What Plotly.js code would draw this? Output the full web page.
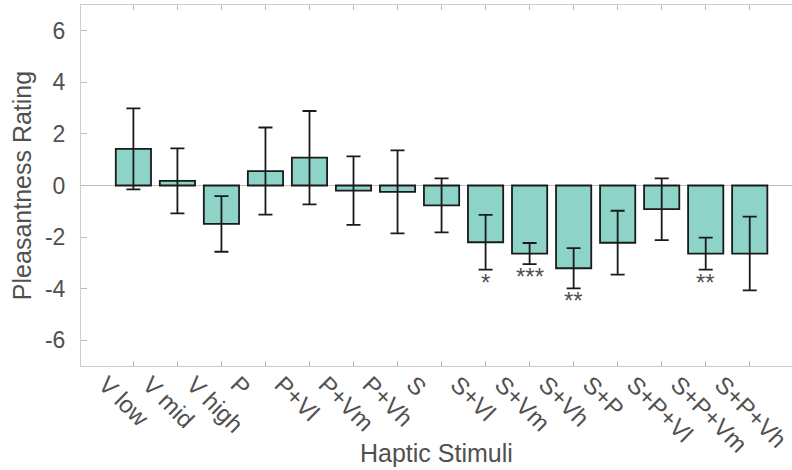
<!DOCTYPE html>
<html>
<head>
<meta charset="utf-8">
<script src="https://cdn.plot.ly/plotly-3.0.1.min.js"></script>
<style>html,body{margin:0;padding:0;background:#fff;}#chart{width:792px;height:470px;}</style>
</head>
<body>
<div id="chart"></div>
<script>
var categories = ['V low','V mid','V high','P','P+Vl','P+Vm','P+Vh','S','S+Vl','S+Vm','S+Vh','S+P','S+P+Vl','S+P+Vm','S+P+Vh'];
var means = [1.42, 0.18, -1.49, 0.56, 1.08, -0.20, -0.25, -0.77, -2.20, -2.64, -3.21, -2.22, -0.92, -2.64, -2.64];
var errors = [1.57, 1.26, 1.08, 1.69, 1.81, 1.33, 1.61, 1.05, 1.06, 0.41, 0.78, 1.24, 1.20, 0.62, 1.43];
var significance = ['', '', '', '', '', '', '', '', '*', '***', '**', '', '', '**', ''];
var yTicks = [-6, -4, -2, 0, 2, 4, 6];

var textColor = '#505050';
var fontFam = 'Liberation Sans, Arial, sans-serif';

var trace = {
  type: 'bar',
  x: categories,
  y: means,
  width: 0.8,
  marker: {color: '#8dd3c7', line: {color: '#1a1a1a', width: 1.8}},
  error_y: {type: 'data', array: errors, visible: true, color: '#1a1a1a', thickness: 1.8, width: 7},
  hoverinfo: 'x+y'
};

var annotations = [];
for (var i = 0; i < categories.length; i++) {
  if (significance[i]) {
    annotations.push({
      x: categories[i], y: means[i] - errors[i], xref: 'x', yref: 'y',
      text: significance[i], showarrow: false, yanchor: 'top', yshift: 3,
      font: {family: fontFam, size: 24, color: textColor}
    });
  }
}
annotations.push({
  xref: 'paper', yref: 'paper', x: 0.5, y: -0.2407, xanchor: 'center', yanchor: 'middle',
  text: 'Haptic Stimuli', showarrow: false,
  font: {family: fontFam, size: 25, color: textColor}
});

var layout = {
  width: 792, height: 470,
  margin: {l: 81, r: 0, t: 5, b: 104},
  paper_bgcolor: '#ffffff', plot_bgcolor: '#ffffff',
  showlegend: false,
  font: {family: fontFam, color: textColor},
  xaxis: {
    type: 'category', range: [-1.19, 14.96],
    showline: true, linecolor: '#cccccc', linewidth: 1, mirror: 'allticks',
    ticks: 'inside', ticklen: 5, tickcolor: '#bbbbbb', tickwidth: 1,
    tickangle: 45, ticklabelshift: -28, ticklabelstandoff: -6,
    tickfont: {family: fontFam, size: 24, color: textColor},
    showgrid: false, zeroline: false
  },
  yaxis: {
    range: [-7, 7], tickvals: yTicks, ticktext: yTicks.map(String),
    showline: true, linecolor: '#cccccc', linewidth: 1,
    ticks: 'inside', ticklen: 6, tickcolor: '#bbbbbb', tickwidth: 1,
    ticklabelstandoff: 10,
    tickfont: {family: fontFam, size: 23, color: textColor},
    showgrid: false, zeroline: true, zerolinecolor: '#c0c0c0', zerolinewidth: 1,
    title: {text: 'Pleasantness Rating', font: {family: fontFam, size: 25, color: textColor}, standoff: 6}
  },
  annotations: annotations,
  bargap: 0.2
};

Plotly.newPlot('chart', [trace], layout, {displayModeBar: false, staticPlot: false});
</script>
</body>
</html>
